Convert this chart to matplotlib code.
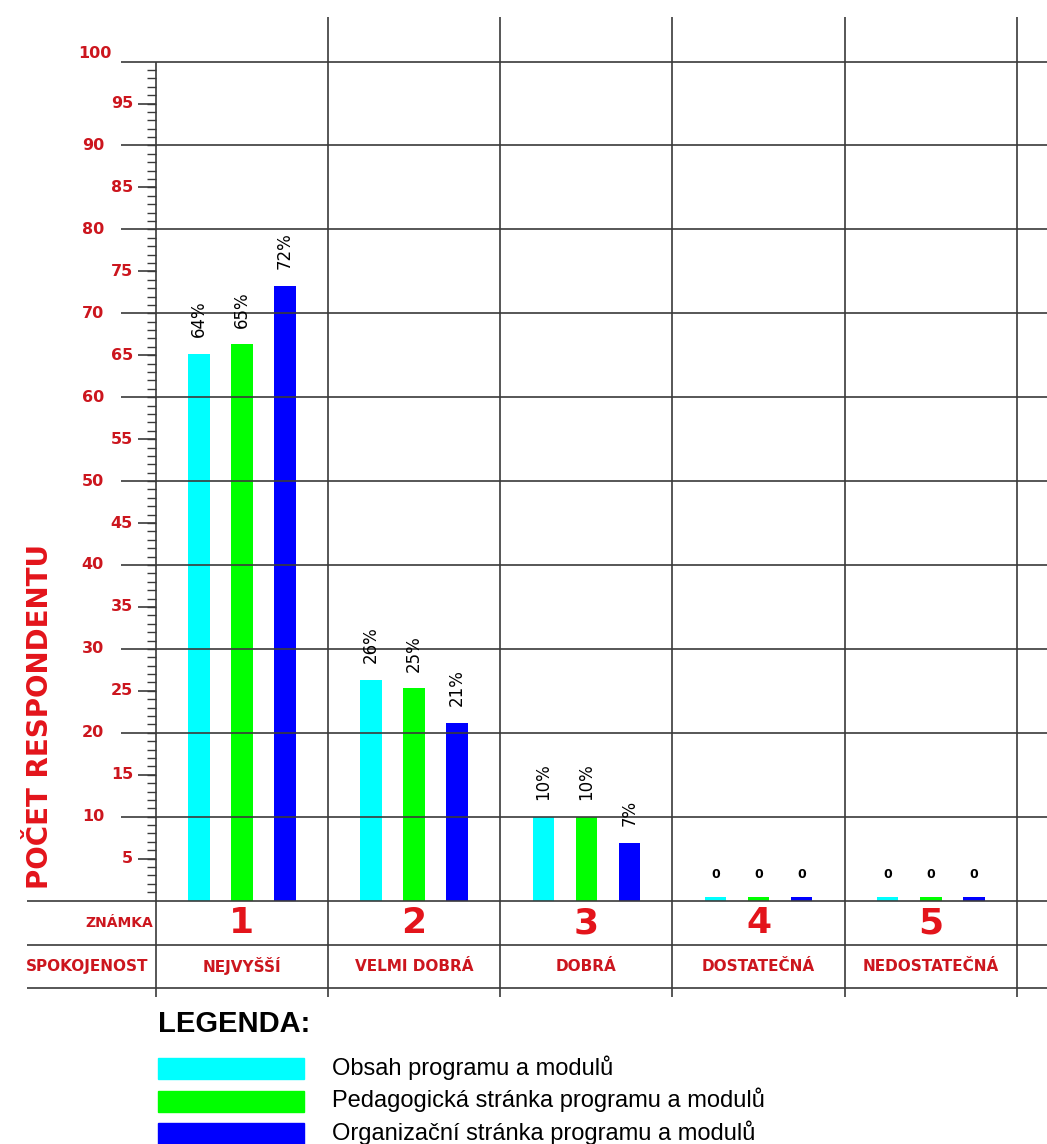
import matplotlib.pyplot as plt
import numpy as np
from matplotlib.patches import Rectangle

plt.rcParams["font.family"] = ["DejaVu Sans"]

# data
grades = ["1", "2", "3", "4", "5"]
ratings = ["NEJVYŠŠÍ", "VELMI DOBRÁ", "DOBRÁ", "DOSTATEČNÁ", "NEDOSTATEČNÁ"]
series_names = [
    "Obsah programu a modulů",
    "Pedagogická stránka programu a modulů",
    "Organizační stránka programu a modulů",
]
series_colors = ["#00ffff", "#00ff00", "#0000ff"]
obsah = [65.2, 26.3, 10.0, 0.4, 0.4]
pedagogicka = [66.3, 25.3, 10.0, 0.4, 0.4]
organizacni = [73.3, 21.2, 6.9, 0.4, 0.4]
obsah_labels = ["64%", "26%", "10%", "0", "0"]
pedagogicka_labels = ["65%", "25%", "10%", "0", "0"]
organizacni_labels = ["72%", "21%", "7%", "0", "0"]
y_max = 100

RED = "#cc161e"
BIG_RED = "#e3141b"
LINE = "#3a3a3a"

fig = plt.figure(figsize=(10.47, 11.44), dpi=100)
ax = fig.add_axes([0, 0, 1, 1])
ax.set_xlim(-1.405, 4.675)
ax.set_ylim(-29.01, 107.34)
ax.axis("off")

x = np.arange(len(grades))
offsets = [-0.25, 0.0, 0.25]
width = 0.125
values = [obsah, pedagogicka, organizacni]
labels = [obsah_labels, pedagogicka_labels, organizacni_labels]

for off, vals, labs, color in zip(offsets, values, labels, series_colors):
    ax.bar(x + off, vals, width=width, color=color, zorder=2)
    for xi, v, lab in zip(x + off, vals, labs):
        if lab == "0":
            ax.text(xi, v + 1.9, lab, ha="center", va="bottom", fontsize=9,
                    fontweight="bold", zorder=4)
        else:
            ax.text(xi, v + 2.0, lab, ha="center", va="bottom", rotation=90,
                    fontsize=12, zorder=4)

# grid lines (drawn over the bars)
right = ax.get_xlim()[1]
ax.hlines(np.arange(10, y_max + 1, 10), -0.703, right, color=LINE, lw=1.2, zorder=3)
ax.hlines([0, -5.29, -10.42], -1.249, right, color=LINE, lw=1.2, zorder=3)
ax.vlines(x + 0.5, -11.49, 105.3, color=LINE, lw=1.2, zorder=3)
ax.vlines(-0.5, -11.49, y_max, color=LINE, lw=1.2, zorder=3)

# y ticks
ax.hlines(np.arange(1, y_max), -0.552, -0.5, color=LINE, lw=1.0, zorder=3)
ax.hlines(np.arange(5, y_max, 10), -0.605, -0.5, color=LINE, lw=1.2, zorder=3)
for v in np.arange(5, y_max, 10):
    ax.text(-0.633, v, f"{v}", ha="right", va="center", color=RED,
            fontsize=11.5, fontweight="bold")
for v in np.arange(10, y_max, 10):
    ax.text(-0.801, v, f"{v}", ha="right", va="center", color=RED,
            fontsize=11.5, fontweight="bold")
ax.text(-0.755, y_max + 1.0, f"{y_max}", ha="right", va="center", color=RED,
        fontsize=11.5, fontweight="bold")

ax.text(-1.173, 21.9, "POČET RESPONDENTU", rotation=90, ha="center", va="center",
        color=BIG_RED, fontsize=20, fontweight="bold")

# table under the chart
ax.text(-0.517, -2.67, "ZNÁMKA", ha="right", va="center", color=RED,
        fontsize=10, fontweight="bold")
ax.text(-0.546, -7.8, "SPOKOJENOST", ha="right", va="center", color=RED,
        fontsize=11, fontweight="bold")
for xi, g, r in zip(x, grades, ratings):
    ax.text(xi, -2.67, g, ha="center", va="center", color=BIG_RED,
            fontsize=26, fontweight="bold")
    ax.text(xi, -7.8, r, ha="center", va="center", color=RED,
            fontsize=11, fontweight="bold")

# legend
ax.text(158 / 1047, 1 - 1032 / 1144, "LEGENDA:", transform=ax.transAxes,
        ha="left", va="baseline", fontsize=21, fontweight="bold",
        family=["Liberation Sans", "DejaVu Sans"])
for i, (name, color) in enumerate(zip(series_names, series_colors)):
    top = 1058 + i * 32.5
    ax.add_patch(Rectangle((158 / 1047, 1 - (top + 21) / 1144), 146 / 1047, 21 / 1144,
                           transform=ax.transAxes, color=color, clip_on=False))
    ax.text(332 / 1047, 1 - (top + 17) / 1144, name, transform=ax.transAxes,
            ha="left", va="baseline", fontsize=17,
            family=["Liberation Sans", "DejaVu Sans"])

fig.savefig("out.png", dpi=100)
